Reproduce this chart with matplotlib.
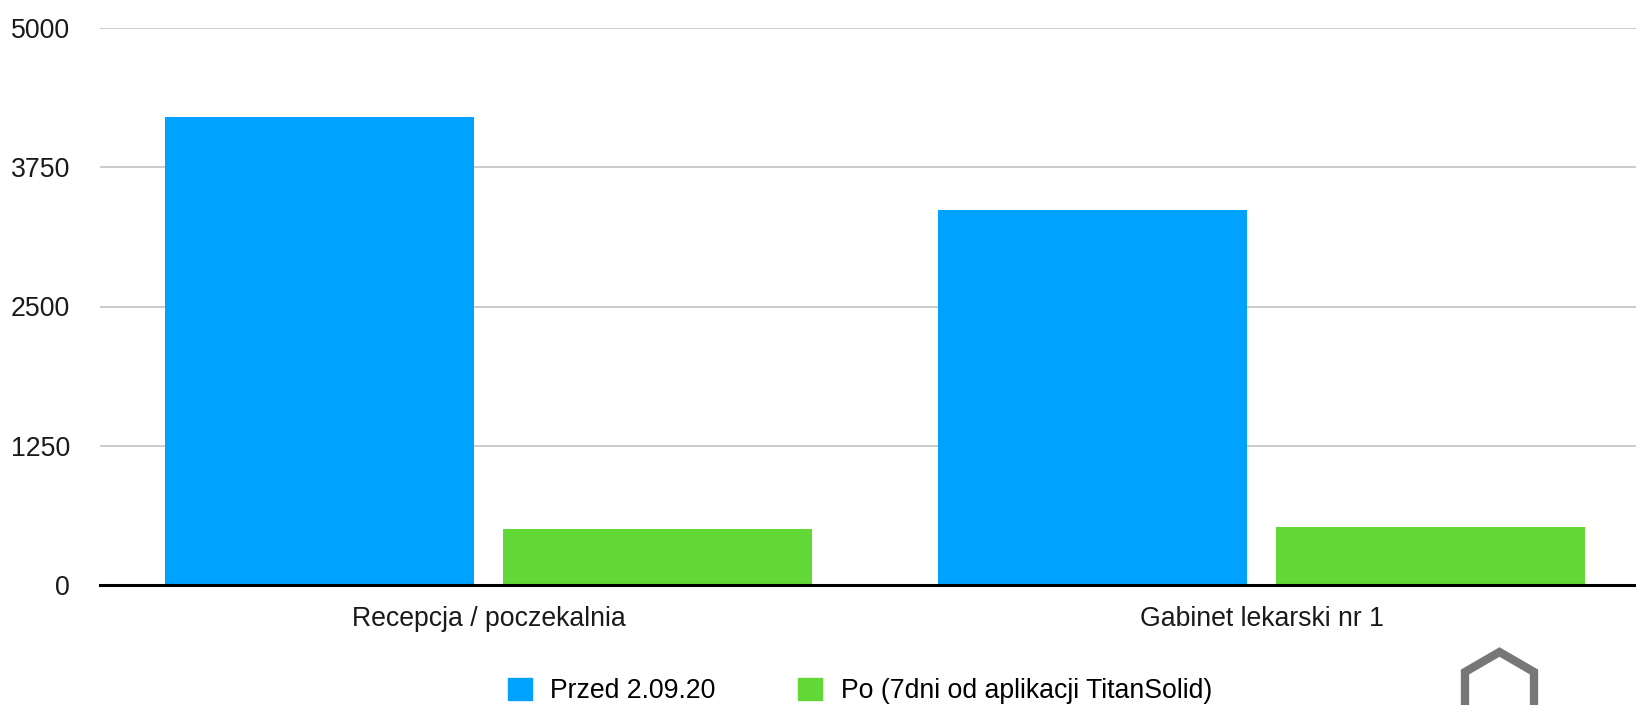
import numpy as np
import matplotlib.pyplot as plt
from matplotlib.lines import Line2D
import matplotlib.patches as patches

categories = ['Recepcja / poczekalnia', 'Gabinet lekarski nr 1']
before = [4200, 3370]
after = [500, 520]
series_names = ['Przed 2.09.20', 'Po (7dni od aplikacji TitanSolid)']
yticks = [0, 1250, 2500, 3750, 5000]

blue = '#00a2ff'
green = '#61d836'

plt.rcParams['font.family'] = ['Liberation Sans', 'DejaVu Sans']
fs = 19.2

fig = plt.figure(figsize=(16.36, 7.05), dpi=100)
ax = fig.add_axes([100 / 1636, 120 / 705, 1536 / 1636, 557 / 705])

x = np.arange(len(categories))
w = 0.4
off = 0.2185
ax.bar(x - off, before, w, color=blue, zorder=3, label=series_names[0])
ax.bar(x + off, after, w, color=green, zorder=3, label=series_names[1])

ax.set_xlim(-0.5026, 1.4845)
ax.set_ylim(0, 5000)
ax.set_yticks(yticks)
ax.set_yticklabels([str(t) for t in yticks], fontsize=fs, color='#1a1a1a')
ax.set_xticks(x)
ax.set_xticklabels(categories, fontsize=fs, color='#1a1a1a')
ax.tick_params(axis='y', length=0, pad=21.5)
ax.tick_params(axis='x', length=0, pad=15)

ax.grid(axis='y', color='#c8c8c8', linewidth=1.3, zorder=1)
ax.grid(axis='x', visible=False)
for s in ['top', 'right', 'left']:
    ax.spines[s].set_visible(False)
ax.spines['bottom'].set_linewidth(2.2)
ax.spines['bottom'].set_color('black')
ax.spines['bottom'].set_zorder(4)

handles = [patches.Patch(color=blue), patches.Patch(color=green)]
fig.legend(handles, series_names, loc='center', bbox_to_anchor=(860 / 1636, 1 - 691 / 705),
           ncol=2, frameon=False, fontsize=fs, handlelength=0.9, handleheight=0.9,
           handletextpad=0.68, columnspacing=3.1, borderaxespad=0, borderpad=0)

# logo fragment at bottom right
hx = np.array([1465, 1465, 1499.5, 1534, 1534]) / 1636
hy = 1 - np.array([710, 672, 652, 672, 710]) / 705
fig.add_artist(Line2D(hx, hy, color='#777777', linewidth=6, solid_joinstyle='miter'))

fig.savefig('out.png', dpi=100)
